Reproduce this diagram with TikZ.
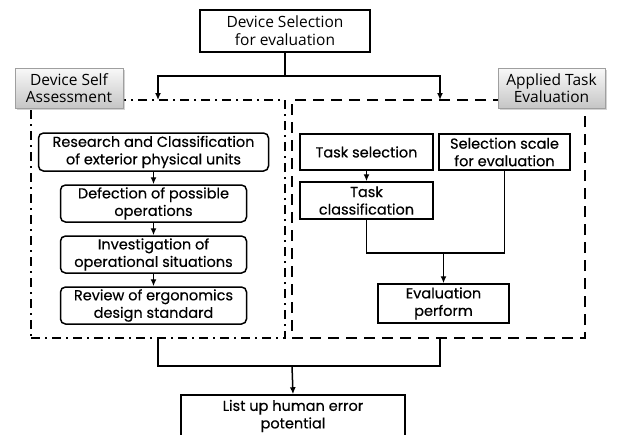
\documentclass[tikz,border=0pt]{standalone}
\usepackage{fontspec}
\newfontfamily\gfont[FakeBold=0.4]{Poppins}
\newfontfamily\kfont{Open Sans}
\usetikzlibrary{arrows.meta,shadows}
\begin{document}
\begin{tikzpicture}[x=1pt,y=-1pt,
 box/.style={draw,line width=1.5pt,inner sep=0pt,align=center,font=\gfont\fontsize{14.5}{17.5}\selectfont},
 rbox/.style={box,rounded corners=5pt},
 kbox/.style={draw,line width=1.5pt,inner sep=0pt,align=center,font=\kfont\fontsize{15.5}{18}\selectfont},
 lab/.style={draw=gray!75,line width=0.8pt,top color=gray!5,bottom color=gray!45,inner sep=0pt,align=center,font=\kfont\fontsize{15.5}{17}\selectfont,drop shadow={opacity=0.35,shadow xshift=2pt,shadow yshift=-2pt}},
 frameA/.style={draw,line width=1.6pt,dash pattern=on 9pt off 5pt on 2pt off 5pt,inner sep=0pt},
 frameB/.style={draw,line width=1.6pt,dash pattern=on 11pt off 7pt,inner sep=0pt},
 conn/.style={line width=1.5pt},
 arr/.style={conn,-{Latex[length=7pt,width=6pt]}}
]
\useasboundingbox (0,0) rectangle (617,434);
\clip (0,0) rectangle (617,434);
% frames
\node[frameA,minimum width=254pt,minimum height=238pt] (fa) at (158,219) {};
\node[frameB,minimum width=293pt,minimum height=238pt] (fb) at (438.5,219) {};
% labels
\node[lab,minimum width=108pt,minimum height=40pt] (la) at (69,88) {Device Self\\Assessment};
\node[lab,minimum width=107pt,minimum height=40pt] (lb) at (551.5,88) {Applied Task\\Evaluation};
% top
\node[kbox,minimum width=170pt,minimum height=42pt] (top) at (285,31) {Device Selection\\for evaluation};
% left column
\node[rbox,minimum width=230pt,minimum height=38pt] (rc) at (153.5,152) {Research and Classification\\of exterior physical units};
\node[rbox,minimum width=186pt,minimum height=37pt] (dp) at (153.5,203.5) {Defection of possible\\operations};
\node[rbox,minimum width=186pt,minimum height=37pt] (io) at (153.5,254.5) {Investigation of\\operational situations};
\node[rbox,minimum width=186pt,minimum height=37pt] (re) at (153.5,305.5) {Review of ergonomics\\design standard};
% right column
\node[box,minimum width=133pt,minimum height=36pt] (ts) at (366.5,152) {Task selection};
\node[box,minimum width=131pt,minimum height=36pt] (ss) at (504.5,152) {Selection scale\\for evaluation};
\node[box,minimum width=133pt,minimum height=37pt] (tc) at (366.5,200.5) {Task\\classification};
\node[box,minimum width=131pt,minimum height=39pt] (ev) at (443.5,303.5) {Evaluation\\perform};
% bottom
\node[box,minimum width=224pt,minimum height=42pt] (bt) at (293,416) {List up human error\\potential};
% coordinates
\coordinate (j1) at (285,76);
\coordinate (ta) at (158,100);
\coordinate (tb) at (440,100);
\coordinate (ba) at (158,338);
\coordinate (bb) at (440,338);
\coordinate (j2) at (292,366);
\coordinate (j3) at (443.5,253);
% connectors
\draw[conn] (top.south) -- (j1);
\draw[arr] (j1) -| (ta);
\draw[arr] (j1) -| (tb);
\draw[arr] (rc) -- (dp);
\draw[arr] (dp) -- (io);
\draw[arr] (io) -- (re);
\draw[arr] (ts) -- (tc);
\draw[conn] (tc.south) |- (j3) -| (ss.south);
\draw[arr] (j3) -- (ev.north);
\draw[conn] (ba) |- (j2) -| (bb);
\draw[arr] (j2) -- (bt.north);
\end{tikzpicture}
\end{document}
